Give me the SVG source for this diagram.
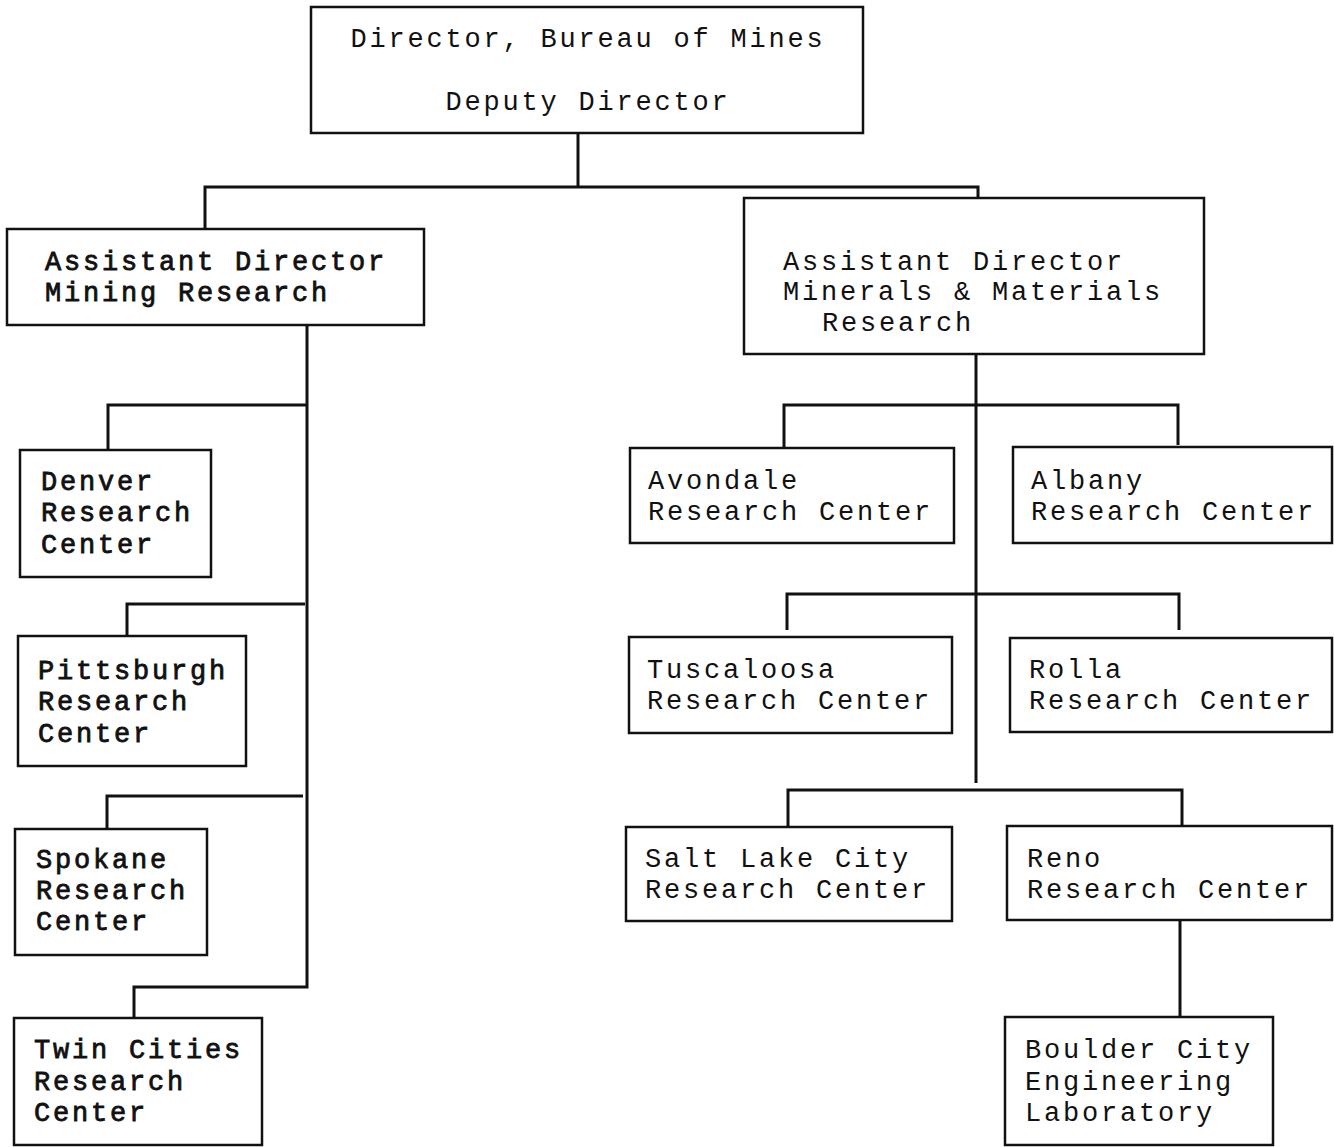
<svg xmlns="http://www.w3.org/2000/svg" width="1334" height="1147" viewBox="0 0 1334 1147">
<style>
.box{fill:#fff;stroke:#111;stroke-width:2.5}
.t{font-family:"Liberation Mono","Courier New",monospace;font-size:27px;letter-spacing:2.8px;fill:#111}
.b{stroke:#111;stroke-width:0.8}
.c{fill:none;stroke:#111;stroke-width:3}
</style>
<rect width="1334" height="1147" fill="#fff"/>
<g id="connectors" class="c">
<path d="M578 133V187M205 228V187H978V198"/>
<path d="M307 325V987H134V1018M307 405H108V450M305 604H127V636M303 796H107V829"/>
<path d="M976 354V783M784 447V405H1178V445M787 630V594H1179V630M788 827V790H1182V825"/>
<path d="M1180 920V1017"/>
</g>
<g id="director">
<rect class="box" x="311" y="7" width="552" height="126"/>
<text class="t" x="588" y="47" text-anchor="middle">Director, Bureau of Mines</text>
<text class="t" x="588" y="110" text-anchor="middle">Deputy Director</text>
</g>
<g id="ad-mining">
<rect class="box" x="7" y="229" width="417" height="96"/>
<text class="t b" x="45" y="270">Assistant Director</text>
<text class="t b" x="45" y="301">Mining Research</text>
</g>
<g id="ad-minerals">
<rect class="box" x="744" y="198" width="460" height="156"/>
<text class="t" x="783" y="270">Assistant Director</text>
<text class="t" x="783" y="300">Minerals &amp; Materials</text>
<text class="t" x="822" y="331">Research</text>
</g>
<g id="denver">
<rect class="box" x="20" y="450" width="191" height="127"/>
<text class="t b" x="41" y="490">Denver</text>
<text class="t b" x="41" y="521">Research</text>
<text class="t b" x="41" y="553">Center</text>
</g>
<g id="pittsburgh">
<rect class="box" x="18" y="636" width="228" height="130"/>
<text class="t b" x="38" y="679">Pittsburgh</text>
<text class="t b" x="38" y="710">Research</text>
<text class="t b" x="38" y="742">Center</text>
</g>
<g id="spokane">
<rect class="box" x="15" y="829" width="192" height="126"/>
<text class="t b" x="36" y="868">Spokane</text>
<text class="t b" x="36" y="899">Research</text>
<text class="t b" x="36" y="930">Center</text>
</g>
<g id="twin-cities">
<rect class="box" x="14" y="1018" width="248" height="127"/>
<text class="t b" x="34" y="1058">Twin Cities</text>
<text class="t b" x="34" y="1090">Research</text>
<text class="t b" x="34" y="1121">Center</text>
</g>
<g id="avondale">
<rect class="box" x="630" y="448" width="324" height="95"/>
<text class="t" x="648" y="489">Avondale</text>
<text class="t" x="648" y="520">Research Center</text>
</g>
<g id="albany">
<rect class="box" x="1013" y="447" width="319" height="96"/>
<text class="t" x="1031" y="489">Albany</text>
<text class="t" x="1031" y="520">Research Center</text>
</g>
<g id="tuscaloosa">
<rect class="box" x="629" y="637" width="323" height="96"/>
<text class="t" x="647" y="678">Tuscaloosa</text>
<text class="t" x="647" y="709">Research Center</text>
</g>
<g id="rolla">
<rect class="box" x="1010" y="638" width="322" height="94"/>
<text class="t" x="1029" y="678">Rolla</text>
<text class="t" x="1029" y="709">Research Center</text>
</g>
<g id="salt-lake-city">
<rect class="box" x="626" y="827" width="326" height="94"/>
<text class="t" x="645" y="867">Salt Lake City</text>
<text class="t" x="645" y="898">Research Center</text>
</g>
<g id="reno">
<rect class="box" x="1007" y="826" width="325" height="94"/>
<text class="t" x="1027" y="867">Reno</text>
<text class="t" x="1027" y="898">Research Center</text>
</g>
<g id="boulder-city">
<rect class="box" x="1005" y="1017" width="268" height="128"/>
<text class="t" x="1025" y="1058">Boulder City</text>
<text class="t" x="1025" y="1090">Engineering</text>
<text class="t" x="1025" y="1121">Laboratory</text>
</g>
</svg>
